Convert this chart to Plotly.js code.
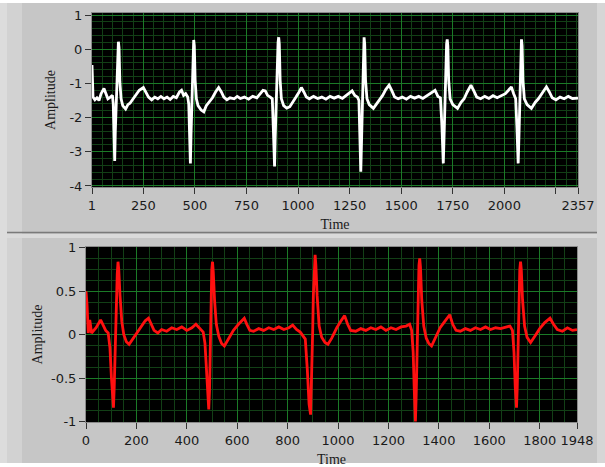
<!DOCTYPE html>
<html>
<head>
<meta charset="utf-8">
<script src="https://cdn.plot.ly/plotly-3.0.1.min.js"></script>
<style>html,body{margin:0;padding:0;background:#fff;}#chart{width:605px;height:467px;}</style>
</head>
<body>
<div id="chart"></div>
<script>
// ---- Top panel (white trace) ----
var topTime = [1,6,15,25,35,45,59,68,78,90,100,104,108,111,114,118,122,126,129,132,136,142,150,164,175,185,200,215,230,250,262,275,290,305,320,335,350,365,380,395,410,425,435,445,455,465,470,474,478,481,485,489,492,494,497,501,507,515,530,543,555,570,585,600,615,628,640,655,670,690,705,720,740,760,780,800,815,830,841,852,865,875,880,886,889,893,898,903,906,909,913,919,930,945,960,975,990,1005,1016,1028,1040,1055,1075,1095,1115,1135,1155,1175,1195,1215,1235,1250,1262,1275,1288,1295,1300,1304,1308,1312,1316,1320,1323,1327,1334,1345,1365,1380,1395,1410,1425,1441,1455,1468,1485,1505,1525,1545,1565,1585,1605,1625,1645,1664,1678,1690,1697,1704,1708,1712,1716,1720,1723,1726,1730,1737,1750,1773,1790,1805,1820,1838,1852,1866,1885,1905,1925,1945,1965,1985,2005,2020,2034,2045,2055,2061,2067,2071,2075,2079,2083,2086,2090,2097,2110,2131,2150,2165,2180,2204,2218,2232,2250,2270,2290,2310,2330,2357];
var topAmp = [-0.46,-1.40,-1.48,-1.42,-1.50,-1.30,-1.15,-1.30,-1.45,-1.40,-1.35,-1.60,-2.40,-3.27,-2.40,-1.50,-0.60,0.10,0.22,0.05,-0.95,-1.45,-1.65,-1.75,-1.62,-1.58,-1.45,-1.35,-1.20,-1.12,-1.25,-1.40,-1.48,-1.40,-1.45,-1.38,-1.45,-1.40,-1.47,-1.38,-1.42,-1.25,-1.20,-1.35,-1.30,-1.40,-1.60,-2.40,-3.34,-2.50,-1.60,-0.60,0.10,0.27,0.10,-0.90,-1.45,-1.65,-1.78,-1.83,-1.65,-1.55,-1.42,-1.25,-1.12,-1.25,-1.40,-1.48,-1.42,-1.45,-1.38,-1.44,-1.40,-1.46,-1.38,-1.42,-1.30,-1.20,-1.22,-1.35,-1.40,-1.45,-2.30,-3.43,-2.60,-1.60,-0.60,0.20,0.35,0.15,-0.90,-1.45,-1.65,-1.72,-1.68,-1.55,-1.40,-1.25,-1.12,-1.25,-1.40,-1.45,-1.38,-1.44,-1.40,-1.46,-1.38,-1.43,-1.38,-1.44,-1.35,-1.28,-1.22,-1.35,-1.40,-1.50,-2.50,-3.58,-2.60,-1.50,-0.50,0.35,0.15,-0.90,-1.45,-1.62,-1.73,-1.60,-1.50,-1.35,-1.18,-1.05,-1.22,-1.40,-1.45,-1.40,-1.46,-1.38,-1.43,-1.38,-1.44,-1.36,-1.30,-1.20,-1.38,-1.42,-2.20,-3.34,-2.50,-1.50,-0.60,0.15,0.29,0.10,-0.90,-1.45,-1.62,-1.73,-1.55,-1.45,-1.25,-1.05,-1.22,-1.40,-1.45,-1.38,-1.44,-1.36,-1.42,-1.35,-1.30,-1.20,-1.10,-1.30,-1.45,-2.30,-3.34,-2.50,-1.50,-0.50,0.29,0.10,-0.90,-1.45,-1.62,-1.73,-1.55,-1.45,-1.30,-1.10,-1.25,-1.42,-1.48,-1.40,-1.45,-1.38,-1.44,-1.43];
var topTickVals = [1,250,500,750,1000,1250,1500,1750,2000,2250,2357];
var topTickText = ['1','250','500','750','1000','1250','1500','1750','2000','','2357'];
var topYTicks = [1,0,-1,-2,-3,-4];

// ---- Bottom panel (red trace) ----
var botTime = [0,4,9,15,22,30,40,58,68,78,88,95,101,106,109,112,116,120,124,127,130,135,142,150,160,171,185,200,220,235,248,258,270,285,300,320,340,360,380,400,420,436,450,465,472,478,484,487,490,493,496,499,502,505,510,517,527,538,549,565,585,605,620,628,638,650,665,685,705,725,745,765,785,805,820,835,850,870,878,885,891,895,899,902,906,909,912,917,925,935,948,960,975,995,1012,1026,1038,1050,1070,1090,1110,1130,1150,1170,1190,1210,1230,1250,1270,1284,1292,1298,1302,1307,1310,1314,1318,1321,1324,1327,1332,1340,1350,1360,1371,1385,1405,1425,1443,1455,1468,1485,1505,1525,1545,1565,1585,1605,1625,1645,1665,1682,1692,1698,1703,1708,1711,1715,1718,1721,1724,1727,1732,1740,1750,1764,1780,1800,1820,1841,1855,1870,1890,1910,1930,1948];
var botAmp = [0.50,0.35,0.02,0.17,0.02,0.05,0.08,0.17,0.10,0.05,0.02,-0.15,-0.50,-0.80,-0.84,-0.60,-0.05,0.35,0.70,0.84,0.75,0.45,0.15,0.00,-0.08,-0.11,-0.05,0.02,0.10,0.16,0.19,0.12,0.05,0.02,0.06,0.04,0.08,0.06,0.09,0.05,0.08,0.12,0.07,0.03,-0.10,-0.45,-0.80,-0.86,-0.65,-0.10,0.40,0.75,0.84,0.72,0.40,0.12,-0.02,-0.10,-0.13,-0.05,0.05,0.12,0.17,0.19,0.12,0.05,0.04,0.07,0.05,0.08,0.06,0.09,0.06,0.08,0.11,0.06,0.03,-0.05,-0.40,-0.80,-0.92,-0.55,0.00,0.45,0.85,0.92,0.80,0.45,0.10,-0.03,-0.09,-0.11,-0.04,0.08,0.16,0.22,0.12,0.05,0.04,0.07,0.05,0.08,0.06,0.09,0.05,0.08,0.06,0.09,0.10,0.12,0.05,-0.20,-0.60,-1.00,-0.70,0.00,0.50,0.80,0.88,0.78,0.40,0.10,-0.04,-0.10,-0.13,-0.05,0.08,0.16,0.23,0.12,0.05,0.04,0.07,0.05,0.08,0.06,0.09,0.06,0.08,0.07,0.09,0.10,0.05,-0.20,-0.60,-0.84,-0.60,0.00,0.45,0.75,0.84,0.75,0.40,0.10,-0.03,-0.09,-0.02,0.07,0.14,0.19,0.12,0.06,0.04,0.08,0.05,0.06];
var botTickVals = [0,200,400,600,800,1000,1200,1400,1600,1800,1948];
var botYTicks = [1,0.5,0,-0.5,-1];
var botYText = ['1','0.5','0','-0.5','-1'];

var W = 605, H = 467;
function px(x){return x/W;}
function py(y){return 1 - y/H;}

var tickFont = {family:'DejaVu Sans, sans-serif', size:13, color:'#1a1a1a'};
var titleFont = {family:'Liberation Serif, serif', size:14, color:'#1a1a1a'};
var majorGrid = '#1b7a27';
var minorGrid = '#123f16';

var traces = [
  {x: topTime, y: topAmp, xaxis:'x', yaxis:'y', type:'scatter', mode:'lines',
   line:{color:'#ffffff', width:2.8}, hoverinfo:'skip'},
  {x: botTime, y: botAmp, xaxis:'x2', yaxis:'y2', type:'scatter', mode:'lines',
   line:{color:'#ff1010', width:2.8}, hoverinfo:'skip'}
];

function xAxis(domain, range, vals, text, anchor, minorD){
  return {domain:domain, range:range, anchor:anchor, tickmode:'array', tickvals:vals, ticktext:text,
    showgrid:true, gridcolor:majorGrid, gridwidth:1, zeroline:false,
    ticks:'outside', ticklen:6, tickcolor:'#333', tickwidth:1,
    showline:true, linecolor:'#8a8a8a', linewidth:1, mirror:true,
    tickfont:tickFont,
    minor:{tickmode:'linear', tick0:0, dtick:minorD, showgrid:true, gridcolor:minorGrid, gridwidth:1, ticks:''},
    title:{text:'Time', font:titleFont, standoff:7}};
}
function yAxis(domain, range, vals, text, anchor, minorD, standoff){
  return {domain:domain, range:range, anchor:anchor, tickmode:'array', tickvals:vals, ticktext:text,
    showgrid:true, gridcolor:majorGrid, gridwidth:1, zeroline:false,
    ticks:'outside', ticklen:6, tickcolor:'#333', tickwidth:1,
    showline:true, linecolor:'#8a8a8a', linewidth:1, mirror:true,
    tickfont:tickFont,
    minor:{tickmode:'linear', tick0:0, dtick:minorD, showgrid:true, gridcolor:minorGrid, gridwidth:1, ticks:''},
    title:{text:'Amplitude', font:titleFont, standoff:standoff}};
}

var layout = {
  width:W, height:H, margin:{l:0,r:0,t:0,b:0},
  paper_bgcolor:'#c6c6c6', plot_bgcolor:'#000000', showlegend:false,
  xaxis: xAxis([px(92),px(578)], [1,2357], topTickVals, topTickText, 'y', 50),
  yaxis: yAxis([py(187),py(13)], [-4.03,1.06], topYTicks, topYTicks.map(String), 'x', 0.2, 10),
  xaxis2: xAxis([px(86),px(577)], [0,1948], botTickVals, botTickVals.map(String), 'y2', 50),
  yaxis2: yAxis([py(422),py(247)], [-1.005,1.01], botYTicks, botYText, 'x2', 0.125, 5),
  shapes: [
    {type:'rect', xref:'paper', yref:'paper', x0:0, x1:1, y0:py(3), y1:1, fillcolor:'#ffffff', line:{width:0}, layer:'below'},
    {type:'rect', xref:'paper', yref:'paper', x0:0, x1:1, y0:0, y1:py(463), fillcolor:'#ffffff', line:{width:0}, layer:'below'},
    {type:'rect', xref:'paper', yref:'paper', x0:0, x1:px(7), y0:py(463), y1:py(3), fillcolor:'#dcdcdc', line:{width:0}, layer:'below'},
    {type:'rect', xref:'paper', yref:'paper', x0:px(7), x1:px(22), y0:py(463), y1:py(3), fillcolor:'#d2d2d2', line:{width:0}, layer:'below'},
    {type:'rect', xref:'paper', yref:'paper', x0:px(597), x1:1, y0:py(463), y1:py(3), fillcolor:'#d6d6d6', line:{width:0}, layer:'below'},
    {type:'line', xref:'paper', yref:'paper', x0:px(7), x1:px(597), y0:py(232.5), y1:py(232.5), line:{color:'#7a7a7a', width:1.5}, layer:'below'},
    {type:'rect', xref:'paper', yref:'paper', x0:px(7), x1:px(597), y0:py(238), y1:py(234), fillcolor:'#dadada', line:{width:0}, layer:'below'}
  ]
};

Plotly.newPlot('chart', traces, layout, {staticPlot:true, displayModeBar:false});
</script>
</body>
</html>
